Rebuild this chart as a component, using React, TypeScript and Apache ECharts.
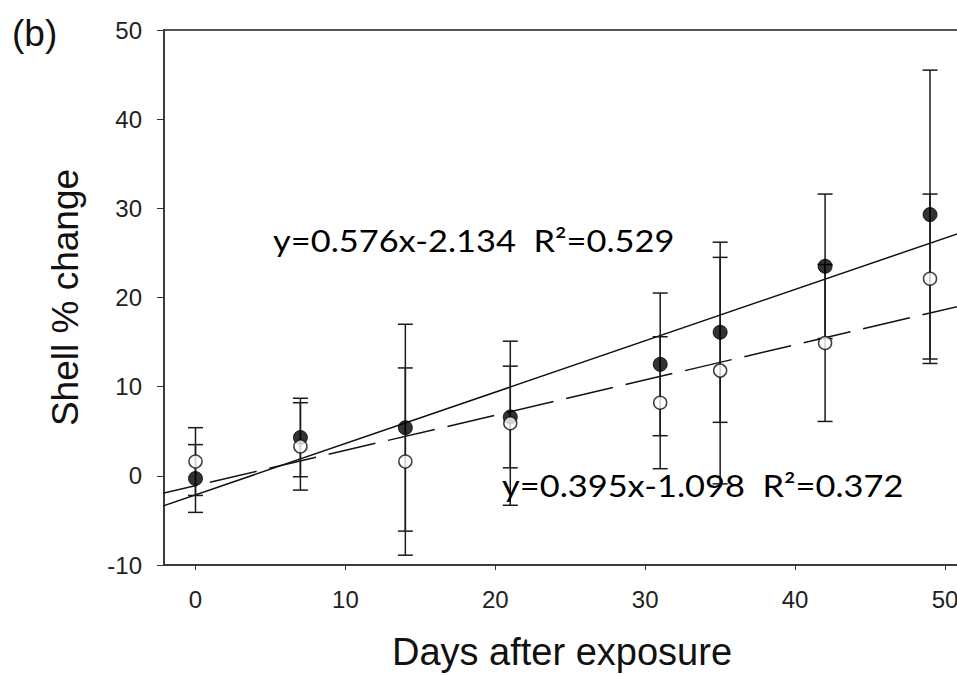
import React, { useEffect, useRef } from "react";
import * as echarts from "echarts";

const days = [0, 7, 14, 21, 31, 35, 42, 49];
const filledMean = [-0.3, 4.3, 5.4, 6.6, 12.5, 16.1, 23.5, 29.3];
const filledErr = [3.8, 4.4, 11.6, 5.7, 8.0, 10.1, 8.1, 16.2];
const openMean = [1.6, 3.3, 1.6, 5.9, 8.2, 11.8, 14.9, 22.1];
const openErr = [3.8, 4.9, 10.5, 9.2, 7.4, 12.7, 8.8, 9.5];
const xTicks = [0, 10, 20, 30, 40, 50];
// regression lines endpoints (from equations printed on the chart)
const fitFilled = [[-3, -3.862], [52, 27.818]];
const fitOpen = [[-3, -2.283], [52, 19.442]];
const eqFilled = "y=0.576x-2.134  R²=0.529";
const eqOpen = "y=0.395x-1.098  R²=0.372";

export default function App() {
  const ref = useRef<HTMLDivElement>(null);
  useEffect(() => {
    if (!ref.current) return;
    const chart = echarts.init(ref.current, undefined, { renderer: "svg" });
    const errData = (means: number[], errs: number[]) =>
      days.map((d, i) => [d, means[i] - errs[i], means[i] + errs[i]]);
    const renderErr = (params: any, api: any) => {
      const x = api.value(0);
      const lo = api.coord([x, api.value(1)]);
      const hi = api.coord([x, api.value(2)]);
      const hw = 7.5;
      const st = { stroke: "#1a1a1a", lineWidth: 1.5 };
      return {
        type: "group",
        children: [
          { type: "line", shape: { x1: lo[0], y1: lo[1], x2: hi[0], y2: hi[1] }, style: st },
          { type: "line", shape: { x1: lo[0] - hw, y1: lo[1], x2: lo[0] + hw, y2: lo[1] }, style: st },
          { type: "line", shape: { x1: hi[0] - hw, y1: hi[1], x2: hi[0] + hw, y2: hi[1] }, style: st },
        ],
      };
    };
    chart.setOption({
      animation: false,
      backgroundColor: "#ffffff",
      grid: {
        left: 164,
        top: 30,
        right: 15,
        bottom: 109,
        show: true,
        borderColor: "#555",
        borderWidth: 2,
      },
      xAxis: {
        type: "value",
        min: -2.1,
        max: 51,
        name: "Days after exposure",
        nameLocation: "middle",
        nameGap: 68,
        nameTextStyle: { fontSize: 38, color: "#111", fontFamily: "Liberation Sans" },
        axisLine: { onZero: false, lineStyle: { color: "#333", width: 1.5 } },
        axisTick: { show: true, length: 5, customValues: xTicks, lineStyle: { color: "#333" } },
        axisLabel: {
          customValues: xTicks,
          fontSize: 24,
          color: "#222",
          margin: 22,
          fontFamily: "Liberation Sans",
        },
        splitLine: { show: false },
      },
      yAxis: {
        type: "value",
        min: -10,
        max: 50,
        interval: 10,
        name: "Shell % change",
        nameLocation: "middle",
        nameGap: 80,
        nameTextStyle: { fontSize: 37, color: "#111", fontFamily: "Liberation Sans" },
        axisLine: { show: true, onZero: false, lineStyle: { color: "#333", width: 1.5 } },
        axisTick: { show: true, length: 7, lineStyle: { color: "#333" } },
        axisLabel: { fontSize: 24, color: "#222", margin: 22, fontFamily: "Liberation Sans" },
        splitLine: { show: false },
      },
      series: [
        {
          type: "line",
          data: fitFilled,
          showSymbol: false,
          clip: false,
          z: 2,
          lineStyle: { color: "#111", width: 1.5, type: "solid" },
        },
        {
          type: "line",
          data: fitOpen,
          showSymbol: false,
          clip: false,
          z: 2,
          lineStyle: { color: "#111", width: 1.5, type: [48, 13] },
        },
        {
          type: "custom",
          data: errData(filledMean, filledErr),
          renderItem: renderErr,
          encode: { x: 0, y: [1, 2] },
          z: 3,
        },
        {
          type: "custom",
          data: errData(openMean, openErr),
          renderItem: renderErr,
          encode: { x: 0, y: [1, 2] },
          z: 3,
        },
        {
          type: "scatter",
          data: days.map((d, i) => [d, filledMean[i]]),
          symbol: "circle",
          symbolSize: 14,
          z: 4,
          itemStyle: { color: "#000", borderColor: "#000", borderWidth: 1 },
        },
        {
          type: "scatter",
          data: days.map((d, i) => [d, openMean[i]]),
          symbol: "circle",
          symbolSize: 13,
          z: 5,
          itemStyle: { color: "#fff", borderColor: "#111", borderWidth: 1.5 },
        },
      ],
      graphic: [
        {
          type: "text",
          x: 12,
          y: 33,
          style: {
            text: "(b)",
            font: "37px 'Liberation Sans'",
            fill: "#111",
            verticalAlign: "middle",
          },
        },
        {
          type: "text",
          x: 273,
          y: 240,
          scaleX: 1.11,
          z: 10,
          style: {
            text: eqFilled,
            font: "31px Lato",
            fill: "#000",
            verticalAlign: "middle",
          },
        },
        {
          type: "text",
          x: 502,
          y: 485,
          scaleX: 1.11,
          z: 10,
          style: {
            text: eqOpen,
            font: "31px Lato",
            fill: "#000",
            verticalAlign: "middle",
          },
        },
      ],
    });
    return () => chart.dispose();
  }, []);
  return (
    <div
      style={{
        position: "fixed",
        left: 0,
        top: 0,
        width: 957,
        height: 676,
        overflow: "hidden",
        background: "#fff",
      }}
    >
      <div ref={ref} style={{ width: 975, height: 676 }} />
    </div>
  );
}
